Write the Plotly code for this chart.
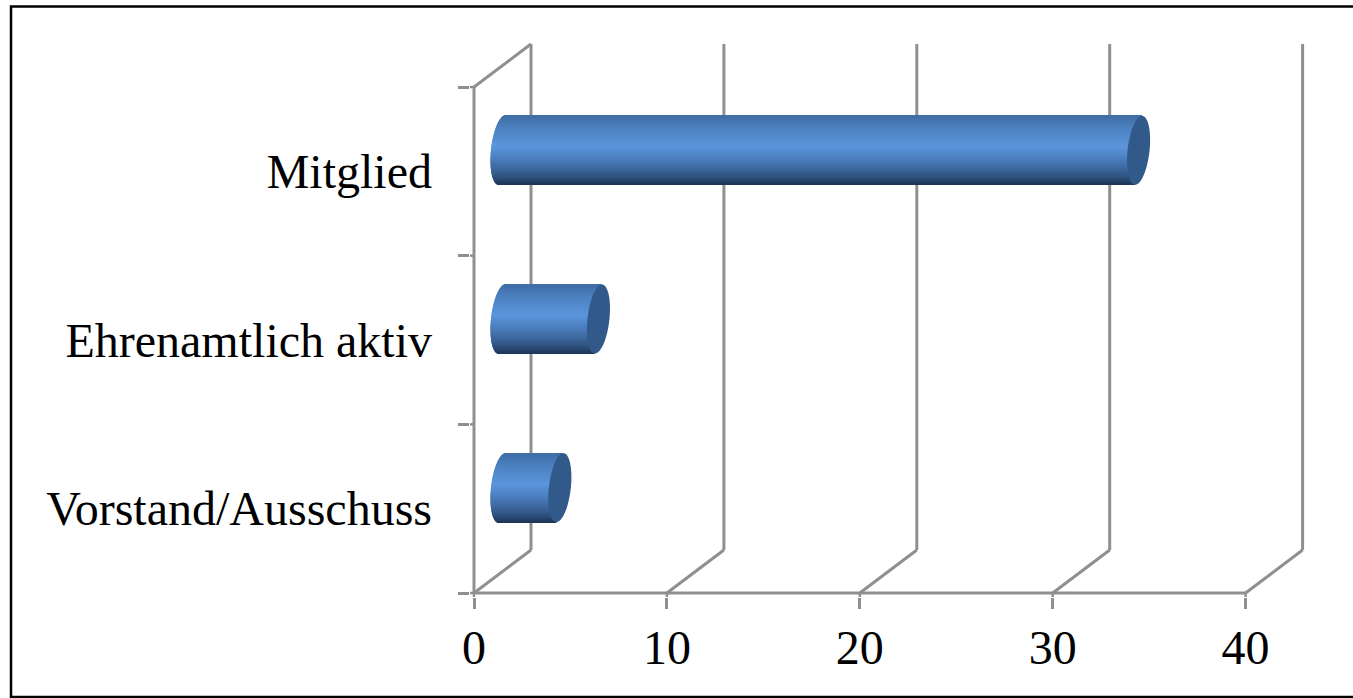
import math
import plotly.graph_objects as go

categories = ["Vorstand/Ausschuss", "Ehrenamtlich aktiv", "Mitglied"]
values = [3, 5, 33]
x_ticks = [0, 10, 20, 30, 40]

W, H = 1353, 698
X0, Y0 = 474, 593          # pixel position of (0, lowest band edge)
PAD = 4                    # room so the axis lines are not clipped
PX_PER_UNIT = 19.29
PX_PER_BAND = (593 - 87) / 3
DEPTH_X = 57 / PX_PER_UNIT
DEPTH_Y = 43 / PX_PER_BAND
BAR_SHIFT_X = 28 / PX_PER_UNIT
BAR_SHIFT_Y = 21 / PX_PER_BAND
BAR_W = 69 / PX_PER_BAND
CAP_A = 11 / PX_PER_UNIT
CAP_TILT = 3.5 / PX_PER_UNIT
GREY = "#8f8f8f"
STRIPS = 69
STOPS = [(0.0, (62, 108, 164)), (0.08, (68, 116, 176)), (0.25, (80, 134, 200)),
         (0.45, (91, 149, 220)), (0.6, (78, 130, 196)), (0.8, (58, 100, 154)),
         (0.93, (42, 74, 116)), (1.0, (30, 54, 86))]


def colour(f):
    for (a, ca), (b, cb) in zip(STOPS, STOPS[1:]):
        if f <= b:
            k = (f - a) / (b - a)
            return "rgb(%d,%d,%d)" % tuple(round(p + (q - p) * k) for p, q in zip(ca, cb))
    return "rgb(30,54,86)"


fig = go.Figure()
positions = list(range(len(categories)))
for s in range(STRIPS):
    f = (s + 0.5) / STRIPS
    t = 1 - 2 * f                         # +1 top of bar, -1 bottom
    left = BAR_SHIFT_X + CAP_TILT * t - CAP_A * math.sqrt(max(0, 1 - t * t))
    right_off = BAR_SHIFT_X + CAP_TILT * t
    fig.add_trace(go.Bar(
        orientation="h",
        y=[p + BAR_SHIFT_Y + t * BAR_W / 2 for p in positions],
        x=[v + right_off - left for v in values],
        base=[left] * len(values),
        width=BAR_W / STRIPS * 1.25,
        marker=dict(color=colour(f), line=dict(width=0)),
        hoverinfo="skip",
        showlegend=False,
    ))

shapes = []


def seg(x0, y0, x1, y1, width=3):
    shapes.append(dict(type="line", xref="x", yref="y", x0=x0, y0=y0, x1=x1, y1=y1,
                       layer="below", line=dict(color=GREY, width=width)))


y_low = -0.5
y_top = y_low + len(categories)
for tick in x_ticks:
    seg(tick, y_low, tick + DEPTH_X, y_low + DEPTH_Y)
    seg(tick + DEPTH_X, y_low + DEPTH_Y, tick + DEPTH_X, y_top + DEPTH_Y)
    seg(tick, y_low, tick, y_low - PAD / PX_PER_BAND, 2.5)   # joins the axis tick to the line
for i in range(len(categories) + 1):
    seg(0, y_low + i, -PAD / PX_PER_UNIT, y_low + i, 2.5)
seg(0, y_low, 0, y_top)
seg(0, y_top, DEPTH_X, y_top + DEPTH_Y)
seg(0, y_low, x_ticks[-1], y_low)

# dark tilted end caps
for p, v in zip(positions, values):
    cx = v + BAR_SHIFT_X
    cy = p + BAR_SHIFT_Y
    pts = []
    for i in range(48):
        a = 2 * math.pi * i / 48
        t = math.sin(a)
        pts.append((cx + CAP_TILT * t + CAP_A * math.cos(a), cy + t * BAR_W / 2))
    path = "M" + "L".join(f"{x:.4f},{y:.4f}" for x, y in pts) + "Z"
    shapes.append(dict(type="path", xref="x", yref="y", path=path, layer="above",
                       fillcolor="#31598a", line=dict(width=0)))

# outer frame (its right edge runs off the picture)
PLOT_L, PLOT_R, PLOT_T, PLOT_B = X0 - PAD, 1308, 38, Y0 + PAD
shapes.append(dict(type="rect", xref="paper", yref="paper",
                   x0=(11 - PLOT_L) / (PLOT_R - PLOT_L), x1=(1365 - PLOT_L) / (PLOT_R - PLOT_L),
                   y0=(PLOT_B - 697) / (PLOT_B - PLOT_T), y1=(PLOT_B - 6.5) / (PLOT_B - PLOT_T),
                   layer="below", line=dict(color="#000000", width=2.5)))

FONT = dict(family="Liberation Serif", size=48, color="#000000")
fig.update_layout(
    width=W, height=H, autosize=False,
    margin=dict(l=PLOT_L, r=W - PLOT_R, t=PLOT_T, b=H - PLOT_B, pad=0),
    paper_bgcolor="#ffffff", plot_bgcolor="#ffffff",
    barmode="overlay", showlegend=False,
    font=FONT,
    shapes=shapes,
    xaxis=dict(range=[(PLOT_L - X0) / PX_PER_UNIT, (PLOT_R - X0) / PX_PER_UNIT],
               tickmode="array", tickvals=x_ticks,
               ticks="outside", ticklen=11, tickwidth=2.5, tickcolor=GREY, showgrid=False,
               zeroline=False, showline=False, ticklabelstandoff=-3, tickfont=FONT),
    yaxis=dict(range=[y_low - PAD / PX_PER_BAND, y_low + (Y0 - PLOT_T) / PX_PER_BAND],
               tickmode="array", tickvals=positions,
               ticktext=categories, ticks="", showgrid=False, zeroline=False, showline=False,
               ticklabelstandoff=37,
               minor=dict(tickmode="array", tickvals=[y_low + i for i in range(len(categories) + 1)],
                          ticks="outside", ticklen=11, tickwidth=2.5, tickcolor=GREY, showgrid=False),
               tickfont=FONT),
)

fig.write_html(
    "out.html",
    config=dict(displayModeBar=False),
    post_script="document.documentElement.style.overflow='hidden';"
                "document.body.style.overflow='hidden';document.body.style.margin='0';",
)
